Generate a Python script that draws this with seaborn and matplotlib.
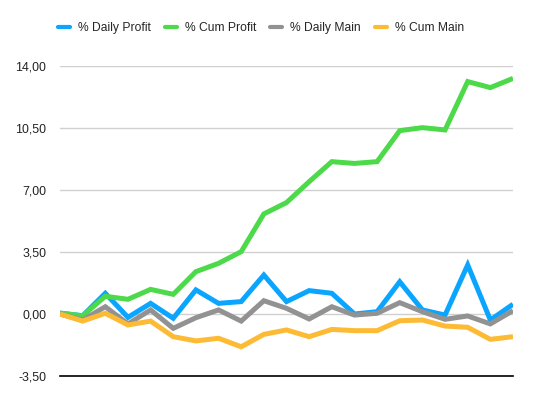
import numpy as np
import pandas as pd
import matplotlib
matplotlib.use("Agg")
import matplotlib.pyplot as plt
import seaborn as sns
from matplotlib.ticker import FuncFormatter

# values
steps = list(range(21))
daily_profit = [0.05, -0.10, 1.17, -0.19, 0.60, -0.24, 1.36, 0.60, 0.70, 2.20, 0.70,
                1.32, 1.17, 0.00, 0.13, 1.82, 0.23, -0.06, 2.77, -0.34, 0.55]
cum_profit = [0.05, -0.10, 1.00, 0.83, 1.39, 1.11, 2.39, 2.86, 3.52, 5.65, 6.29,
              7.47, 8.60, 8.50, 8.60, 10.35, 10.52, 10.39, 13.12, 12.78, 13.30]
daily_main = [0.00, -0.34, 0.41, -0.56, 0.23, -0.81, -0.21, 0.23, -0.40, 0.75, 0.32,
              -0.28, 0.41, -0.06, 0.04, 0.64, 0.13, -0.30, -0.11, -0.56, 0.19]
cum_main = [0.00, -0.40, 0.04, -0.62, -0.40, -1.28, -1.52, -1.37, -1.85, -1.15, -0.90,
            -1.28, -0.87, -0.94, -0.94, -0.38, -0.34, -0.68, -0.75, -1.43, -1.28]
series_names = ["% Daily Profit", "% Cum Profit", "% Daily Main", "% Cum Main"]
y_ticks = [-3.5, 0, 3.5, 7, 10.5, 14]

colors = ["#0AA5FF", "#4CD94A", "#929292", "#FDBB35"]

df = pd.DataFrame({"step": steps,
                   series_names[0]: daily_profit,
                   series_names[1]: cum_profit,
                   series_names[2]: daily_main,
                   series_names[3]: cum_main})
long_df = df.melt(id_vars="step", var_name="series", value_name="value")

sns.set_style("white")
plt.rcParams["font.family"] = ["Liberation Sans", "DejaVu Sans"]

fig = plt.figure(figsize=(5.48, 3.96), dpi=100)
ax = fig.add_axes([60 / 548, 1 - 376 / 396, 453 / 548, 310 / 396])

sns.lineplot(data=long_df, x="step", y="value", hue="series", hue_order=series_names,
             palette=colors, linewidth=3.6, ax=ax, legend=False,
             solid_joinstyle="miter", solid_capstyle="butt")

ax.set_xlim(0, 20)
ax.set_ylim(-3.5, 14)
ax.set_yticks(y_ticks)
ax.yaxis.set_major_formatter(FuncFormatter(lambda v, p: f"{v:.2f}".replace(".", ",")))
ax.set_xticks([])
ax.set_xlabel("")
ax.set_ylabel("")
ax.tick_params(axis="y", length=0, pad=10, labelsize=8.9, labelcolor="#222222")
ax.grid(axis="y", color="#D0D0D0", linewidth=1)
ax.set_axisbelow(True)
for side in ["top", "right", "left"]:
    ax.spines[side].set_visible(False)
ax.spines["bottom"].set_color("black")
ax.spines["bottom"].set_linewidth(1.2)

handles = [plt.Line2D([], [], color=c, linewidth=3) for c in colors]
fig.legend(handles, series_names, loc="center", bbox_to_anchor=(261 / 548, 1 - 28 / 396),
           ncol=4, frameon=False, fontsize=8.7, handlelength=1.0, handletextpad=0.65,
           columnspacing=1.15)

fig.savefig("out.png", dpi=100)
